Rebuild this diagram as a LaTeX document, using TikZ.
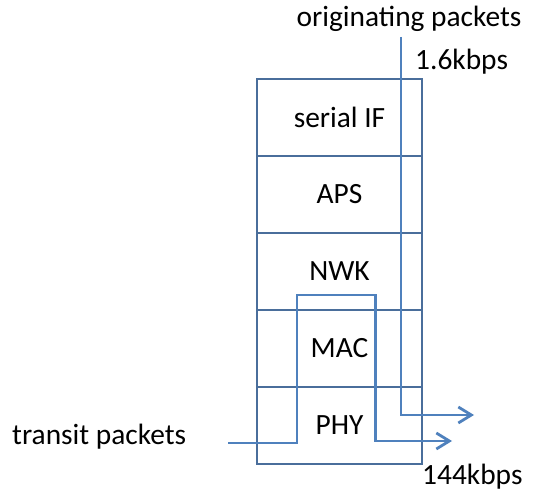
\documentclass[tikz,border=0pt]{standalone}
\usepackage{fontspec}
\setmainfont{Carlito}
\usetikzlibrary{arrows.meta}
\definecolor{flow}{RGB}{79,129,189}
\definecolor{frame}{RGB}{74,110,155}
\begin{document}
\begin{tikzpicture}[x=1bp,y=-1bp,
  layer/.style={draw=frame,line width=1.8bp,outer sep=0pt,minimum width=165bp,minimum height=77bp,inner sep=0pt,font=\fontsize{29.5}{34}\selectfont},
  lbl/.style={inner sep=0pt,font=\fontsize{29.5}{34}\selectfont},
  path/.style={draw=flow,line width=2.8bp},
  tip/.style={-{Straight Barb[length=13bp,width=16bp,line width=2.8bp]}}]
\useasboundingbox (0,0) rectangle (541,493);
% protocol stack
\node[layer] (sif) at (339.5,117.5) {serial IF};
\node[layer,anchor=north] (aps) at (sif.south) {APS};
\node[layer,anchor=north] (nwk) at (aps.south) {NWK};
\node[layer,anchor=north] (mac) at (nwk.south) {MAC};
\node[layer,anchor=north] (phy) at (mac.south) {PHY};
% labels
\node[lbl] (orig) at (409,19) {originating packets};
\node[lbl,anchor=west] (rate1) at (415,62) {1.6kbps};
\node[lbl,anchor=west] (trans) at (12,437) {transit packets};
\node[lbl,anchor=west] (rate2) at (422,477) {144kbps};
% flow end points
\coordinate (o0) at (401,37);
\coordinate (o1) at (401,415);
\coordinate (o2) at (474,415);
\coordinate (t0) at (228,443);
\coordinate (t1) at (297,443);
\coordinate (t2) at (297,295);
\coordinate (t3) at (375.5,295);
\coordinate (t4) at (375.5,441);
\coordinate (t5) at (452,441);
% originating flow
\draw[path,tip] (o0) -- (o1) -- (o2);
% transit flow
\draw[path,tip] (t0) -- (t1) -- (t2) -- (t3) -- (t4) -- (t5);
\end{tikzpicture}
\end{document}
